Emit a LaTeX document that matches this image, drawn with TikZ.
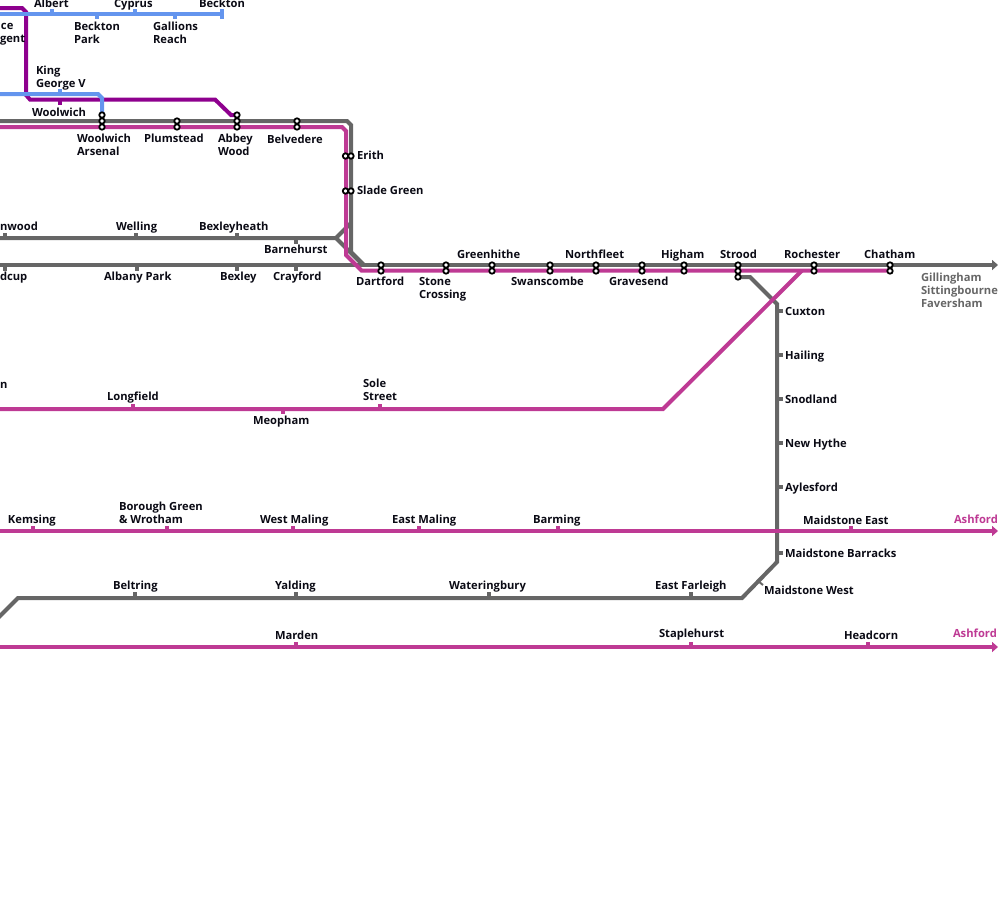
\documentclass[tikz,border=0pt]{standalone}
\usepackage{fontspec}
\setmainfont{Open Sans}
\usetikzlibrary{arrows.meta}
\definecolor{railgray}{HTML}{666666}
\definecolor{railmag}{HTML}{BE3A94}
\definecolor{railpur}{HTML}{8E008E}
\definecolor{railblue}{HTML}{6495EE}
\definecolor{labelink}{HTML}{0A0A14}
\tikzset{
  x=1pt,y=-1pt,
  rail/.style={line width=4pt,line join=miter},
  gline/.style={rail,draw=railgray},
  mline/.style={rail,draw=railmag},
  pline/.style={rail,draw=railpur},
  bline/.style={rail,draw=railblue},
  tick/.style={line width=3.4pt},
  lab/.style={font=\fontsize{11.2}{13}\selectfont\bfseries,text=labelink,anchor=west,align=left,inner sep=0pt,outer sep=0pt,text depth=0pt,execute at begin node={\rule{0pt}{8pt}}},
  glab/.style={lab,text=railgray},
  mlab/.style={lab,text=railmag},
  ic/.style={circle,draw=black,fill=white,line width=1.8pt,minimum size=5.4pt,inner sep=0pt},
  tipped/.style={-{Triangle[length=6pt,width=10pt]}},
}
\begin{document}
\begin{tikzpicture}
\useasboundingbox (0,0) rectangle (1000,900);
\clip (0,0) rectangle (1000,900);
% gray lines
\draw[gline] (0,121) -- (347,121) -- (351,125) -- (351,252) -- (364,265);
\draw[gline,tipped] (0,265) -- (998,265);
\draw[gline] (0,238) -- (336,238) -- (351,223);
\draw[gline] (336,238) -- (361,263);
\draw[gline] (738,277) -- (750,277) -- (777,304) -- (777,562) -- (742,598) -- (18,598) -- (-2,618);
% gray ticks
\foreach \tx in {5,136,237} \draw[railgray,tick] (\tx,233) -- (\tx,238);
\draw[railgray,tick] (296,238) -- (296,244);
\foreach \tx in {5,137,237,296} \draw[railgray,tick] (\tx,265) -- (\tx,271);
\foreach \ty in {311,355,399,443,487,553} \draw[railgray,tick] (777,\ty) -- (783,\ty);
\draw[railgray,line width=2pt] (758,581) -- (763,585);
\foreach \tx in {135,296,489,691} \draw[railgray,tick] (\tx,592) -- (\tx,598);
% purple
\draw[pline] (0,8) -- (22,8) -- (26,12) -- (26,95) -- (30,99.5) -- (215,99.5) -- (231,115) -- (237,115);
\draw[railpur,tick] (60,99) -- (60,105);
% blue
\draw[bline] (0,14) -- (222,14);
\draw[railblue,line width=3.4pt] (222,9) -- (222,19);
\foreach \tx in {52,135} \draw[railblue,tick] (\tx,9) -- (\tx,14);
\foreach \tx in {97,175} \draw[railblue,tick] (\tx,14) -- (\tx,19);
\draw[railblue,tick] (60,89) -- (60,94);
\draw[bline] (0,94) -- (98,94) -- (102,98) -- (102,115);
% magenta
\draw[mline] (0,127) -- (342,127) -- (346,131) -- (346,255) -- (361.5,270.5) -- (890,270.5);
\draw[mline] (802,270.5) -- (663,409) -- (0,409);
\draw[mline,tipped] (0,531) -- (998,531);
\draw[mline,tipped] (0,647) -- (998,647);
\foreach \tx in {133,380} \draw[railmag,tick] (\tx,404) -- (\tx,409);
\draw[railmag,tick] (283,409) -- (283,414);
\foreach \tx in {33,167,293,419,558,851} \draw[railmag,tick] (\tx,526) -- (\tx,531);
\foreach \tx in {296,691,868} \draw[railmag,tick] (\tx,642) -- (\tx,647);
% interchanges
\foreach \tx in {102,237} \node[ic] at (\tx,115) {};
\foreach \tx in {102,177,237,297} {\node[ic] at (\tx,121) {}; \node[ic] at (\tx,127) {};}
\foreach \ty in {156,191} {\node[ic] at (345.5,\ty) {}; \node[ic] at (351,\ty) {};}
\foreach \tx in {381,446,492,550,596,642,684,738,814,890} {\node[ic] at (\tx,265) {}; \node[ic] at (\tx,271) {};}
\node[ic] at (738,277) {};
% labels
\node[lab] (albert) at (34,3) {Albert};
\node[lab] (cyprus) at (114,3) {Cyprus};
\node[lab] (beckton) at (199,3) {Beckton};
\node[lab] (prince) at (1,25) {ce};
\node[lab] (regent) at (0,38) {gent};
\node[lab] (becktonpark) at (74,32.5) {Beckton\\Park};
\node[lab] (gallions) at (153,32.5) {Gallions\\Reach};
\node[lab] (kgv) at (36,76.5) {King\\George V};
\node[lab] (woolwich) at (32,112) {Woolwich};
\node[lab] (arsenal) at (77,144.5) {Woolwich\\Arsenal};
\node[lab] (plumstead) at (144,138) {Plumstead};
\node[lab] (abbey) at (218,144.5) {Abbey\\Wood};
\node[lab] (belvedere) at (267,139) {Belvedere};
\node[lab] (erith) at (357,155) {Erith};
\node[lab] (slade) at (357,190) {Slade Green};
\node[lab] (falcon) at (0,226) {nwood};
\node[lab] (welling) at (116,226) {Welling};
\node[lab] (bexleyheath) at (199,226) {Bexleyheath};
\node[lab] (barnehurst) at (264,249) {Barnehurst};
\node[lab] (sidcup) at (0,276) {dcup};
\node[lab] (albany) at (104,276) {Albany Park};
\node[lab] (bexley) at (220,276) {Bexley};
\node[lab] (crayford) at (273,276) {Crayford};
\node[lab] (dartford) at (356,281) {Dartford};
\node[lab] (stone) at (419,287.5) {Stone\\Crossing};
\node[lab] (greenhithe) at (457,254) {Greenhithe};
\node[lab] (swanscombe) at (511,281) {Swanscombe};
\node[lab] (northfleet) at (565,254) {Northfleet};
\node[lab] (gravesend) at (609,281) {Gravesend};
\node[lab] (higham) at (661,254) {Higham};
\node[lab] (strood) at (720,254) {Strood};
\node[lab] (rochester) at (784,254) {Rochester};
\node[lab] (chatham) at (864,254) {Chatham};
\node[glab] (gillingham) at (921,290) {Gillingham\\Sittingbourne\\Faversham};
\node[lab] (cuxton) at (785,311) {Cuxton};
\node[lab] (hailing) at (785,355) {Hailing};
\node[lab] (snodland) at (785,399) {Snodland};
\node[lab] (newhythe) at (785,443) {New Hythe};
\node[lab] (aylesford) at (785,487) {Aylesford};
\node[lab] (meo) at (0,384) {n};
\node[lab] (longfield) at (107,396) {Longfield};
\node[lab] (meopham) at (253,420) {Meopham};
\node[lab] (sole) at (363,389.5) {Sole\\Street};
\node[lab] (kemsing) at (8,519) {Kemsing};
\node[lab] (borough) at (119,512.5) {Borough Green\\\& Wrotham};
\node[lab] (westmaling) at (260,519) {West Maling};
\node[lab] (eastmaling) at (392,519) {East Maling};
\node[lab] (barming) at (533,519) {Barming};
\node[lab] (maidstoneeast) at (803,520) {Maidstone East};
\node[mlab] (ashforda) at (954,519) {Ashford};
\node[lab] (barracks) at (785,553) {Maidstone Barracks};
\node[lab] (maidstonewest) at (764,590) {Maidstone West};
\node[lab] (beltring) at (113,585) {Beltring};
\node[lab] (yalding) at (275,585) {Yalding};
\node[lab] (wateringbury) at (449,585) {Wateringbury};
\node[lab] (eastfarleigh) at (655,585) {East Farleigh};
\node[lab] (marden) at (275,635) {Marden};
\node[lab] (staplehurst) at (659,633) {Staplehurst};
\node[lab] (headcorn) at (844,635) {Headcorn};
\node[mlab] (ashfordb) at (953,633) {Ashford};
\end{tikzpicture}
\end{document}
